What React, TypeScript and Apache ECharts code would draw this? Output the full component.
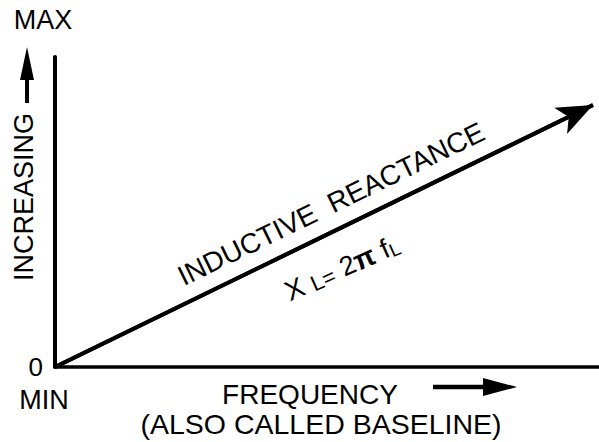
import React, { useEffect, useRef } from "react";
import * as echarts from "echarts";

// Data
const lineX = [0, 9.89];
const lineY = [0, 8.45];
const axisMin = 0;
const axisMax = 10;
const yTickLabels = ["0"];
const xAxisTitle = "FREQUENCY";
const xAxisSub = "(ALSO CALLED BASELINE)";
const yAxisTitle = "INCREASING";
const curveLabel = "INDUCTIVE  REACTANCE";
const maxLabel = "MAX";
const minLabel = "MIN";

const FONT = "'Liberation Sans', Arial, Helvetica, sans-serif";
const ANG = (26 * Math.PI) / 180;
const ANG2 = (24 * Math.PI) / 180;

export default function App() {
  const ref = useRef<HTMLDivElement>(null);
  useEffect(() => {
    if (!ref.current) return;
    const chart = echarts.init(ref.current, undefined, { renderer: "svg" });
    const pts = lineX.map((x, i) => [x, lineY[i]]);
    const last = pts.length - 1;
    chart.setOption({
      animation: false,
      backgroundColor: "#ffffff",
      grid: { left: 55, right: 0, top: 57, bottom: 75, containLabel: false },
      xAxis: {
        type: "value",
        min: axisMin,
        max: axisMax,
        interval: 10,
        axisLine: { show: true, lineStyle: { color: "#000", width: 3.5 } },
        axisTick: { show: false },
        splitLine: { show: false },
        axisLabel: { show: false },
      },
      yAxis: {
        type: "value",
        min: axisMin,
        max: axisMax,
        interval: 10,
        axisLine: { show: true, lineStyle: { color: "#000", width: 4 } },
        axisTick: { show: false },
        splitLine: { show: false },
        axisLabel: {
          show: true,
          margin: 12,
          color: "#000",
          fontFamily: FONT,
          fontSize: 26,
          formatter: (v: number) => (v === axisMin ? yTickLabels[0] : ""),
        },
      },
      series: [
        {
          type: "line",
          data: pts,
          showSymbol: false,
          symbol: "none",
          silent: true,
          lineStyle: { color: "#000", width: 4 },
          markLine: {
            silent: true,
            symbol: ["none", "arrow"],
            symbolSize: [22, 36],
            label: { show: false },
            lineStyle: { color: "#000", width: 4, type: "solid" },
            data: [[{ coord: pts[0] }, { coord: pts[last] }]],
          },
        },
      ],
      graphic: [
        {
          type: "text",
          x: 43,
          y: 20,
          style: { text: maxLabel, fontFamily: FONT, fontSize: 27, fill: "#000", textAlign: "center", textVerticalAlign: "middle" },
        },
        {
          type: "text",
          x: 44,
          y: 400,
          style: { text: minLabel, fontFamily: FONT, fontSize: 27, fill: "#000", textAlign: "center", textVerticalAlign: "middle" },
        },
        {
          type: "line",
          shape: { x1: 27, y1: 78, x2: 27, y2: 103 },
          style: { stroke: "#000", lineWidth: 4 },
        },
        {
          type: "polygon",
          shape: { points: [[27, 47], [20, 80], [34, 80]] },
          style: { fill: "#000" },
        },
        {
          type: "text",
          x: 24,
          y: 197,
          rotation: Math.PI / 2,
          style: { text: yAxisTitle, fontFamily: FONT, fontSize: 27, fill: "#000", textAlign: "center", textVerticalAlign: "middle" },
        },
        {
          type: "text",
          x: 310,
          y: 394,
          style: { text: xAxisTitle, fontFamily: FONT, fontSize: 28, fill: "#000", textAlign: "center", textVerticalAlign: "middle" },
        },
        {
          type: "line",
          shape: { x1: 433, y1: 387, x2: 486, y2: 387 },
          style: { stroke: "#000", lineWidth: 4.5 },
        },
        {
          type: "polygon",
          shape: { points: [[483, 378], [517, 387], [483, 396]] },
          style: { fill: "#000" },
        },
        {
          type: "text",
          x: 321,
          y: 424,
          style: { text: xAxisSub, fontFamily: FONT, fontSize: 28.5, fill: "#000", textAlign: "center", textVerticalAlign: "middle" },
        },
        {
          type: "text",
          x: 331,
          y: 204,
          rotation: ANG,
          style: { text: curveLabel, fontFamily: FONT, fontSize: 28, fill: "#000", textAlign: "center", textVerticalAlign: "middle" },
        },
        {
          type: "text",
          x: 342,
          y: 268,
          rotation: ANG2,
          style: {
            text: "{x|X}{sp| }{s|L=}{sp|  }{n|2}{p|π}{sp| }{n|f}{t|L}",
            fontFamily: FONT,
            fill: "#000",
            textAlign: "center",
            textVerticalAlign: "middle",
            rich: {
              x: { fontFamily: FONT, fontSize: 28, fill: "#000", verticalAlign: "bottom" },
              sp: { fontFamily: FONT, fontSize: 24, fill: "#000", width: 8 },
              s: { fontFamily: FONT, fontSize: 22, fill: "#000", verticalAlign: "bottom" },
              n: { fontFamily: FONT, fontSize: 27, fill: "#000" },
              p: { fontFamily: FONT, fontSize: 28, fontWeight: "bold", fill: "#000" },
              t: { fontFamily: FONT, fontSize: 19, fill: "#000", verticalAlign: "bottom" },
            },
          },
        },
      ],
    });
    return () => chart.dispose();
  }, []);
  return (
    <div
      ref={ref}
      style={{ position: "fixed", left: 0, top: 0, width: 599, height: 442, background: "#fff" }}
    />
  );
}
